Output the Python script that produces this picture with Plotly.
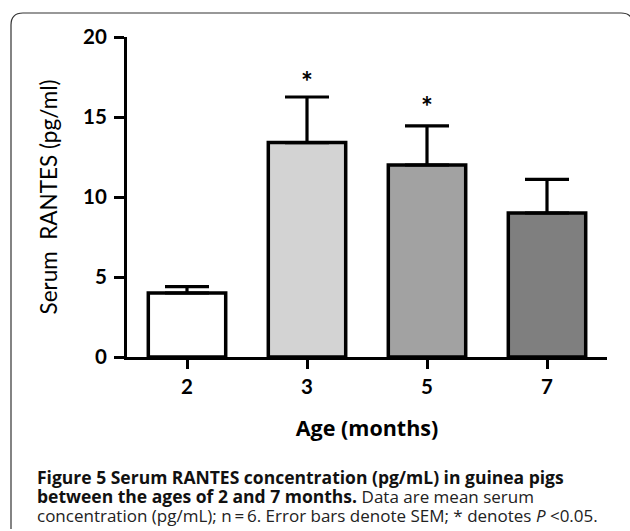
import plotly.graph_objects as go

# ---- data ----
ages = ["2", "3", "5", "7"]
means = [4.0, 13.4, 12.0, 9.0]
sem = [0.4, 2.85, 2.45, 2.1]
bar_colors = ["#ffffff", "#d3d3d3", "#a2a2a2", "#7f7f7f"]
star_ages = ["3", "5"]
star_y = [17.6, 16.05]
y_ticks = [0, 5, 10, 15, 20]

fig = go.Figure()
fig.add_trace(go.Bar(
    x=ages, y=means, width=0.645,
    marker=dict(color=bar_colors, line=dict(color="black", width=3.5)),
    error_y=dict(type="data", symmetric=False, array=sem,
                 arrayminus=[0] * len(sem), color="black", thickness=3.2, width=22),
    showlegend=False, hoverinfo="skip",
))

for a, yv in zip(star_ages, star_y):
    fig.add_annotation(x=ages.index(a), y=yv, text="<b>*</b>", showarrow=False,
                       font=dict(family="Lato", size=28, color="black"),
                       yanchor="middle", yshift=-6)

axis_font = dict(family="Lato", size=20.5, color="black")
fig.update_xaxes(type="category", range=[-0.5, 3.5], showline=True, linewidth=3,
                 linecolor="black", ticks="outside", ticklen=9, tickwidth=3,
                 tickcolor="black", tickfont=axis_font, showgrid=False,
                 zeroline=False, fixedrange=True,
                 tickvals=ages, ticktext=[f"<b>{a}</b>" for a in ages],
                 title=dict(text="<b>Age (months)</b>",
                            font=dict(family="Open Sans", size=21.5, color="black"),
                            standoff=25))
fig.update_yaxes(range=[0, 20], tickvals=y_ticks,
                 ticktext=[f"<b>{v}</b>" for v in y_ticks],
                 showline=True, linewidth=3,
                 linecolor="black", ticks="outside", ticklen=10, tickwidth=3,
                 tickcolor="black", tickfont=axis_font, showgrid=False,
                 zeroline=False, fixedrange=True, ticklabelstandoff=3,
                 title=dict(text="Serum  RANTES (pg/ml)",
                            font=dict(family="Lato", size=22.5, color="black"),
                            standoff=20))

# rounded border (paper coords: x 0..1 = 127..607 px, y 0..1 = 357..37 px)
x0, x1 = (11 - 127) / 480, (633 - 127) / 480
yt, yb = (357 - 13) / 320, (357 - 529) / 320
rx, ry = 12 / 480, 12 / 320
path = (f"M {x0},{yb} L {x0},{yt - ry} Q {x0},{yt} {x0 + rx},{yt} "
        f"L {x1 - rx},{yt} Q {x1},{yt} {x1},{yt - ry} L {x1},{yb}")
fig.add_shape(type="path", path=path, xref="paper", yref="paper",
              line=dict(color="#333333", width=1.2))

bold_font = dict(family="Open Sans", size=17.5, color="#111111")
reg = "font-size:17px;fill:#222222"
lines = [
    ("<b>Figure 5 Serum RANTES concentration (pg/mL) in guinea pigs</b>", 477),
    (f"<b>between the ages of 2 and 7 months.</b> <span style='{reg}'>Data are mean serum</span>", 496),
    (f"<span style='{reg}'>concentration (pg/mL); n\u2009=\u20096. Error bars denote SEM; * denotes <i>P</i> &lt;0.05.</span>", 515),
]
for txt, ypx in lines:
    fig.add_annotation(x=(35 - 127) / 480, y=(357 - ypx) / 320, xref="paper", yref="paper",
                       text=txt, showarrow=False, xanchor="left", yanchor="middle",
                       font=bold_font)

fig.update_layout(width=630, height=531, margin=dict(l=127, r=23, t=37, b=174),
                  paper_bgcolor="white", plot_bgcolor="white")

fig.write_html("out.html")
